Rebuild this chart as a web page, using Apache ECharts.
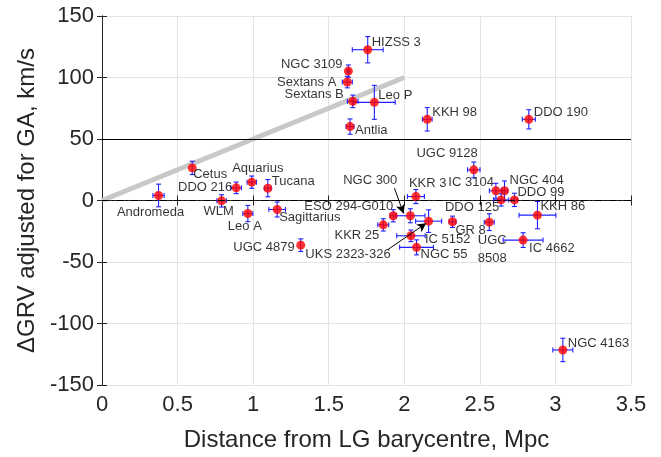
<!DOCTYPE html>
<html>
<head>
<meta charset="utf-8">
<script src="https://cdn.jsdelivr.net/npm/echarts@6/dist/echarts.min.js"></script>
<style>
  html, body { margin: 0; padding: 0; background: #fff; }
  #chart { width: 661px; height: 457px; }
</style>
</head>
<body>
<div id="chart"></div>
<script>
// galaxy names, distance from LG barycentre (Mpc), delta GRV (km/s) and errors
const galaxies = ['Andromeda', 'Cetus', 'WLM', 'DDO 216', 'Leo A', 'Aquarius', 'Tucana', 'Sagittarius',
  'UGC 4879', 'Sextans A', 'NGC 3109', 'Antlia', 'Sextans B', 'HIZSS 3', 'Leo P', 'KKR 25',
  'ESO 294-G010', 'NGC 300', 'IC 5152', 'KKR 3', 'NGC 55', 'KKH 98', 'UKS 2323-326', 'GR 8',
  'UGC 9128', 'UGC 8508', 'IC 3104', 'DDO 125', 'NGC 404', 'DDO 99', 'IC 4662', 'DDO 190',
  'KKH 86', 'NGC 4163'];
const distMpc = [0.374, 0.597, 0.791, 0.888, 0.965, 0.991, 1.097, 1.159,
  1.315, 1.623, 1.630, 1.641, 1.659, 1.758, 1.802, 1.861,
  1.927, 2.040, 2.044, 2.077, 2.081, 2.152, 2.161, 2.319,
  2.460, 2.562, 2.606, 2.641, 2.663, 2.729, 2.786, 2.824,
  2.881, 3.049];
const dGRV = [4.1, 26.5, -0.3, 10.3, -10.6, 14.9, 10.0, -7.3,
  -36.3, 96.3, 105.2, 60.1, 80.6, 122.6, 79.8, -19.8,
  -12.4, -12.4, -28.7, 3.2, -38.1, 66.0, -16.8, -17.3,
  24.9, -17.6, 7.9, 0.5, 7.9, 0.5, -32.2, 66.0,
  -11.9, -121.5];
const distErr = [0.037, 0, 0.031, 0.035, 0.033, 0.031, 0.022, 0.055,
  0, 0.033, 0.01, 0.026, 0.035, 0.102, 0.138, 0.036,
  0.02, 0.097, 0.094, 0.056, 0.112, 0.032, 0.086, 0.022,
  0.041, 0.033, 0.043, 0.05, 0.02, 0.02, 0.132, 0.043,
  0.122, 0.066];
const grvErr = [9.2, 5.4, 5, 4.7, 6.6, 5, 7, 6.1,
  5.1, 4.7, 5, 6.2, 5.1, 10.7, 13.8, 5,
  5, 5.7, 4.7, 5.7, 6.1, 9.5, 9.2, 4.6,
  6.4, 6.8, 6.1, 5, 8, 5.4, 6, 7.8,
  11.1, 9.5];

// grey trend line
const trendX = [0, 2];
const trendY = [0, 100];

// arrows pointing from labels to NGC 300 and UKS 2323-326
const arrowFrom = [[1.935, 10], [1.89, -40]];
const arrowTo = [[1.995, -10.5], [2.145, -18.5]];

const xTicks = { min: 0, max: 3.5, step: 0.5 };
const yTicks = { min: -150, max: 150, step: 50 };

// label placement: [align, dx, dy] relative to marker centre
const labelPlacement = {
  'Andromeda': ['center', -8, 17],
  'Cetus': ['left', 1, 7],
  'WLM': ['center', -3, 11],
  'DDO 216': ['right', -4, 0],
  'Leo A': ['center', -3, 13],
  'Aquarius': ['center', 6, -14],
  'Tucana': ['left', 4, -7],
  'Sagittarius': ['left', 2, 8],
  'UGC 4879': ['right', -6, 2],
  'Sextans A': ['right', -11, 0],
  'NGC 3109': ['right', -6, -7],
  'Antlia': ['left', 5, 4],
  'Sextans B': ['right', -9, -7],
  'HIZSS 3': ['left', 4, -7],
  'Leo P': ['left', 4, -7],
  'KKR 25': ['right', -4, 11],
  'ESO 294-G010': ['right', 0, -9],
  'NGC 300': ['right', -13, -35],
  'IC 5152': ['left', 14, 4],
  'KKR 3': ['left', -7, -13],
  'NGC 55': ['left', 4, 7],
  'KKH 98': ['left', 5, -7],
  'UKS 2323-326': ['right', -38, 33],
  'GR 8': ['left', 3, 9],
  'UGC 9128': ['right', 4, -16],
  'UGC 8508': ['center', 3, 27],
  'IC 3104': ['right', -2, -8],
  'DDO 125': ['right', -2, 8],
  'NGC 404': ['left', 5, -10],
  'DDO 99': ['left', 3, -7],
  'IC 4662': ['left', 6, 8],
  'DDO 190': ['left', 5, -7],
  'KKH 86': ['left', 3, -9],
  'NGC 4163': ['left', 5, -7]
};
const labelText = { 'UGC 8508': 'UGC\n8508' };

const FONT = '"Liberation Sans", Arial, Helvetica, sans-serif';
const AXIS_COLOR = '#262626';

const chart = echarts.init(document.getElementById('chart'), null, { renderer: 'canvas' });

const pointData = galaxies.map((name, i) => {
  const p = labelPlacement[name];
  return {
    name: name,
    value: [distMpc[i], dGRV[i]],
    label: { align: p[0], offset: [p[1], p[2]] }
  };
});

const errData = galaxies.map((name, i) => [distMpc[i], dGRV[i], distErr[i], grvErr[i]]);

function renderErrorBar(params, api) {
  const x = api.value(0), y = api.value(1), ex = api.value(2), ey = api.value(3);
  const cap = 2.5;
  const style = { stroke: '#1f1fff', lineWidth: 1.1 };
  const children = [];
  if (ex > 0) {
    const l = api.coord([x - ex, y]), r = api.coord([x + ex, y]);
    children.push({ type: 'line', shape: { x1: l[0], y1: l[1], x2: r[0], y2: r[1] }, style: style });
    children.push({ type: 'line', shape: { x1: l[0], y1: l[1] - cap, x2: l[0], y2: l[1] + cap }, style: style });
    children.push({ type: 'line', shape: { x1: r[0], y1: r[1] - cap, x2: r[0], y2: r[1] + cap }, style: style });
  }
  if (ey > 0) {
    const t = api.coord([x, y + ey]), b = api.coord([x, y - ey]);
    children.push({ type: 'line', shape: { x1: t[0], y1: t[1], x2: b[0], y2: b[1] }, style: style });
    children.push({ type: 'line', shape: { x1: t[0] - cap, y1: t[1], x2: t[0] + cap, y2: t[1] }, style: style });
    children.push({ type: 'line', shape: { x1: b[0] - cap, y1: b[1], x2: b[0] + cap, y2: b[1] }, style: style });
  }
  return { type: 'group', children: children };
}

const boxAxis = (extra) => Object.assign({
  type: 'value',
  axisLine: { show: true, lineStyle: { color: AXIS_COLOR, width: 1 } },
  axisTick: { show: true, inside: true, length: 5, lineStyle: { color: AXIS_COLOR } },
  axisLabel: { show: false },
  splitLine: { show: false }
}, extra);

chart.setOption({
  animation: false,
  textStyle: { fontFamily: FONT },
  grid: { left: 102, right: 30, top: 16, bottom: 72, containLabel: false },
  xAxis: [
    boxAxis({
      min: xTicks.min, max: xTicks.max, interval: xTicks.step,
      name: 'Distance from LG barycentre, Mpc',
      nameLocation: 'middle', nameGap: 43,
      nameTextStyle: { fontSize: 24, color: AXIS_COLOR, fontFamily: FONT },
      axisLabel: { show: true, fontSize: 22, color: AXIS_COLOR, margin: 9, fontFamily: FONT },
      splitLine: { show: true, lineStyle: { color: '#e3e3e3', width: 1 } }
    }),
    boxAxis({ min: xTicks.min, max: xTicks.max, interval: xTicks.step, position: 'top' })
  ],
  yAxis: [
    boxAxis({
      min: yTicks.min, max: yTicks.max, interval: yTicks.step,
      name: 'ΔGRV adjusted for GA, km/s',
      nameLocation: 'middle', nameGap: 62,
      nameTextStyle: { fontSize: 24, color: AXIS_COLOR, fontFamily: FONT },
      axisLabel: { show: true, fontSize: 22, color: AXIS_COLOR, margin: 8, fontFamily: FONT },
      splitLine: { show: true, lineStyle: { color: '#e3e3e3', width: 1 } }
    }),
    boxAxis({ min: yTicks.min, max: yTicks.max, interval: yTicks.step, position: 'right' })
  ],
  series: [
    {
      type: 'line',
      data: trendX.map((x, i) => [x, trendY[i]]),
      symbol: 'none',
      lineStyle: { color: '#c8c8c8', width: 5 },
      silent: true,
      z: 2,
      markLine: {
        silent: true,
        symbol: 'none',
        label: { show: false },
        data: [
          { yAxis: 50, lineStyle: { color: '#000', width: 1.2, type: 'solid' } },
          { yAxis: 0, lineStyle: { color: '#000', width: 1, type: [7, 3, 1.5, 3] } }
        ]
      }
    },
    {
      type: 'custom',
      data: errData,
      encode: { x: 0, y: 1 },
      renderItem: renderErrorBar,
      silent: true,
      z: 3
    },
    {
      type: 'scatter',
      data: pointData,
      symbol: 'circle',
      symbolSize: 9,
      itemStyle: { color: '#ff0000' },
      z: 4,
      label: {
        show: true,
        position: 'inside',
        verticalAlign: 'middle',
        fontSize: 13,
        lineHeight: 18,
        color: '#000',
        fontFamily: FONT,
        formatter: (p) => labelText[p.name] || p.name
      }
    },
    {
      type: 'line',
      data: [],
      markLine: {
        silent: true,
        symbol: ['none', 'arrow'],
        symbolSize: [7, 9],
        label: { show: false },
        lineStyle: { color: '#000', width: 1, type: 'solid' },
        data: arrowFrom.map((f, i) => [{ coord: f }, { coord: arrowTo[i] }])
      }
    }
  ]
});
</script>
</body>
</html>
